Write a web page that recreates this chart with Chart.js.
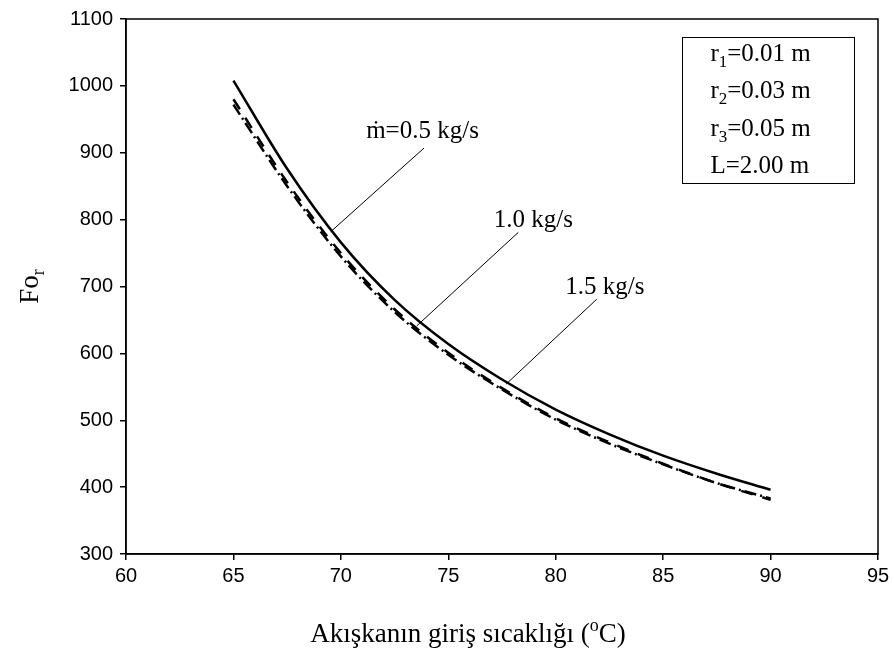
<!DOCTYPE html>
<html>
<head>
<meta charset="utf-8">
<script src="https://cdn.jsdelivr.net/npm/chart.js@4.4.0/dist/chart.umd.min.js"></script>
<style>
  body { margin: 0; background: #fff; }
  #wrap { width: 894px; height: 654px; }
</style>
</head>
<body>
<div id="wrap"><canvas id="myChart"></canvas></div>
<script>
// inlet temperature (C) and Fo_r for the three mass flow rates
const temps = [65, 67.5, 70, 72.5, 75, 77.5, 80, 82.5, 85, 87.5, 90]
const fo05 = [1008, 876, 766, 680, 614, 561, 516, 479, 447, 420, 396]
const fo10 = [980, 856, 750, 666, 601, 548, 503, 467, 435, 406, 381]
const fo15 = [972, 850, 745, 662, 598, 546, 501, 465, 434, 406, 383]
const xTicks = [60, 65, 70, 75, 80, 85, 90, 95]
const yTicks = [300, 400, 500, 600, 700, 800, 900, 1000, 1100]

// labels with leader lines (data units)
const flowLabels = [
  { text: 'ṁ=0.5 kg/s', tx: 73.8, ty: 922, from: [73.87, 907], to: [69.53, 782] },
  { text: '1.0 kg/s', tx: 78.96, ty: 789, from: [78.26, 781], to: [73.53, 641] },
  { text: '1.5 kg/s', tx: 82.29, ty: 689, from: [81.91, 681], to: [77.69, 554] }
]
// info box lines: [text, subscript, rest]
const boxLines = [
  ['r', '1', '=0.01 m'],
  ['r', '2', '=0.03 m'],
  ['r', '3', '=0.05 m'],
  ['L', '', '=2.00 m']
]
const xTitle = ['Akışkanın giriş sıcaklığı (', 'o', 'C)']
const yTitle = ['Fo', 'r', '']

function toPoints(ys) {
  return temps.map(function (t, i) { return { x: t, y: ys[i] } })
}

const serif = '"Liberation Serif", "Times New Roman", serif'
const sans = '"Liberation Sans", Arial, sans-serif'

// width of [text, small text, text]
function partsWidth(ctx, parts, size) {
  ctx.font = size + 'px ' + serif
  let w = ctx.measureText(parts[0]).width + ctx.measureText(parts[2]).width
  ctx.font = Math.round(size * 0.68) + 'px ' + serif
  return w + ctx.measureText(parts[1]).width
}

// small text lowered (shift > 0) or raised (shift < 0)
function drawParts(ctx, x, y, parts, size, shift) {
  ctx.font = size + 'px ' + serif
  ctx.fillText(parts[0], x, y)
  x += ctx.measureText(parts[0]).width
  if (parts[1]) {
    ctx.font = Math.round(size * 0.68) + 'px ' + serif
    ctx.fillText(parts[1], x, y + shift)
    x += ctx.measureText(parts[1]).width
  }
  ctx.font = size + 'px ' + serif
  ctx.fillText(parts[2], x, y)
}

const extras = {
  id: 'extras',
  afterDraw(chart) {
    const ctx = chart.ctx
    const xs = chart.scales.x
    const ys = chart.scales.y
    const a = chart.chartArea
    ctx.save()
    // frame
    ctx.strokeStyle = '#000'
    ctx.lineWidth = 1.5
    ctx.strokeRect(a.left, a.top, a.right - a.left, a.bottom - a.top)

    // flow rate labels
    ctx.lineWidth = 1
    ctx.fillStyle = '#000'
    ctx.textAlign = 'center'
    ctx.textBaseline = 'alphabetic'
    ctx.font = '25px ' + serif
    flowLabels.forEach(function (l) {
      ctx.beginPath()
      ctx.moveTo(xs.getPixelForValue(l.from[0]), ys.getPixelForValue(l.from[1]))
      ctx.lineTo(xs.getPixelForValue(l.to[0]), ys.getPixelForValue(l.to[1]))
      ctx.stroke()
      ctx.fillText(l.text, xs.getPixelForValue(l.tx), ys.getPixelForValue(l.ty))
    })

    // info box
    const bx1 = xs.getPixelForValue(85.9), bx2 = xs.getPixelForValue(93.9)
    const by1 = ys.getPixelForValue(1073), by2 = ys.getPixelForValue(854)
    ctx.strokeRect(Math.round(bx1) + 0.5, Math.round(by1) + 0.5, Math.round(bx2 - bx1), Math.round(by2 - by1))
    ctx.textAlign = 'left'
    const tx = xs.getPixelForValue(87.2)
    boxLines.forEach(function (parts, i) {
      drawParts(ctx, tx, by1 + 24 + i * 37.3, parts, 25, 6)
    })

    // axis titles
    const xw = partsWidth(ctx, xTitle, 27)
    drawParts(ctx, 468 - xw / 2, 642, xTitle, 27, -11)
    ctx.save()
    ctx.translate(38, (a.top + a.bottom) / 2)
    ctx.rotate(-Math.PI / 2)
    const yw = partsWidth(ctx, yTitle, 27)
    drawParts(ctx, -yw / 2, 0, yTitle, 27, 6)
    ctx.restore()
    ctx.restore()
  }
}

const config = {
  type: 'scatter',
  data: {
    datasets: [
      { label: '0.5 kg/s', data: toPoints(fo05), borderDash: [] },
      { label: '1.0 kg/s', data: toPoints(fo10), borderDash: [12, 10] },
      { label: '1.5 kg/s', data: toPoints(fo15), borderDash: [12, 4, 2, 4] }
    ].map(function (d) {
      return Object.assign(d, {
        showLine: true,
        borderColor: '#000',
        borderWidth: 2.5,
        pointRadius: 0,
        cubicInterpolationMode: 'monotone',
        fill: false
      })
    })
  },
  plugins: [extras],
  options: {
    responsive: true,
    maintainAspectRatio: false,
    animation: false,
    layout: { padding: { left: 0, top: 14, right: 16, bottom: 0 } },
    plugins: { legend: { display: false }, tooltip: { enabled: false } },
    scales: {
      x: {
        type: 'linear',
        min: 60,
        max: 95,
        afterBuildTicks: function (s) { s.ticks = xTicks.map(function (v) { return { value: v } }) },
        afterFit: function (s) { s.height = 100 },
        grid: { drawOnChartArea: false, drawTicks: true, tickLength: 6, color: '#000', lineWidth: 1.5 },
        border: { display: true, color: '#000', width: 1.5 },
        ticks: { color: '#000', padding: 4, font: { family: sans, size: 20 }, callback: function (v) { return String(v) } }
      },
      y: {
        type: 'linear',
        min: 300,
        max: 1100,
        afterBuildTicks: function (s) { s.ticks = yTicks.map(function (v) { return { value: v } }) },
        afterFit: function (s) { s.width = 126 },
        grid: { drawOnChartArea: false, drawTicks: true, tickLength: 6, color: '#000', lineWidth: 1.5 },
        border: { display: true, color: '#000', width: 1.5 },
        ticks: { color: '#000', padding: 7, font: { family: sans, size: 20 }, callback: function (v) { return String(v) } }
      }
    }
  }
}

const myChart = new Chart(document.getElementById('myChart'), config)
</script>
</body>
</html>
